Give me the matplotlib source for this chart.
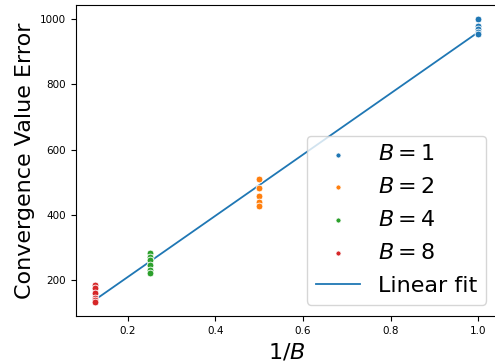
import numpy as np
import matplotlib
matplotlib.use('Agg')
import matplotlib.pyplot as plt

# convergence value error for each batch size B
err_b1 = [1000, 978, 968, 960, 954]
err_b2 = [510, 482, 458, 440, 428]
err_b4 = [285, 272, 263, 248, 232, 222]
err_b8 = [186, 175, 160, 145, 140, 134]
batch_sizes = [1, 2, 4, 8]
colors = ['#1f77b4', '#ff7f0e', '#2ca02c', '#d62728']


def run():
    fig = plt.figure(figsize=(4.95, 3.63), dpi=100)
    ax = fig.add_axes([0.1535, 0.1295, 0.851, 0.857])

    groups = [err_b1, err_b2, err_b4, err_b8]
    xs_all = []
    ys_all = []
    for b, errs, c in zip(batch_sizes, groups, colors):
        x = np.full(len(errs), 1.0 / b)
        ax.scatter(x, errs, s=24, color=c, edgecolor='white', linewidth=0.6,
                   label=r'$B = %d$' % b, zorder=3)
        xs_all.extend(x)
        ys_all.extend(errs)

    k, m = np.polyfit(xs_all, ys_all, 1)
    xf = np.array([1.0 / batch_sizes[-1], 1.0 / batch_sizes[0]])
    ax.plot(xf, k * xf + m, color='#1f77b4', linewidth=1.3, label='Linear fit', zorder=2)

    ax.set_xticks([0.2, 0.4, 0.6, 0.8, 1.0])
    ax.set_yticks([200, 400, 600, 800, 1000])
    ax.tick_params(labelsize=7.5)
    ax.set_xlabel(r'$1/B$', fontsize=16)
    ax.set_ylabel('Convergence Value Error', fontsize=16)
    ax.legend(loc='lower right', fontsize=16, markerscale=0.75, labelspacing=0.58)

    fig.savefig('out.png', dpi=100)


if __name__ == '__main__':
    run()
